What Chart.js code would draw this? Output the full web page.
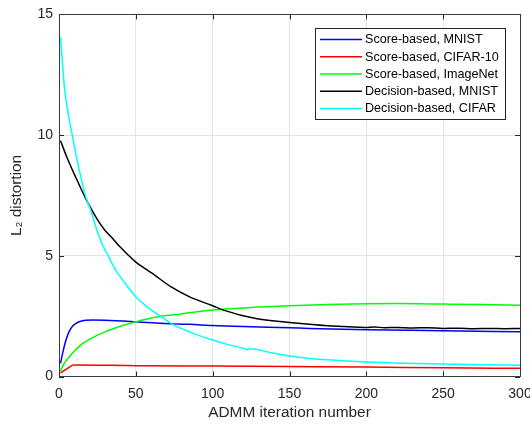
<!DOCTYPE html>
<html>
<head>
<meta charset="utf-8">
<script src="https://cdn.jsdelivr.net/npm/chart.js@4"></script>
<style>
html,body{margin:0;padding:0;background:#fff;}
#wrap{width:530px;height:424px;position:relative;}
</style>
</head>
<body>
<div id="wrap"><canvas id="c" width="530" height="424"></canvas></div>
<script>
// ---- data ----
const seriesLabels = ['Score-based, MNIST','Score-based, CIFAR-10','Score-based, ImageNet','Decision-based, MNIST','Decision-based, CIFAR'];
const seriesColors = ['#0000ff','#ff0000','#00ff00','#000000','#00ffff'];

const xTicks = [0,50,100,150,200,250,300];
const yTicks = [0,5,10,15];

const scoreMnistX = [1,2.5,4.5,6.5,8.9,11,13.2,17.5,22,30,50,75,85,100,125,150,163,200,250,300];
const scoreMnistY = [0.55,1.0,1.5,1.85,2.09,2.2,2.27,2.33,2.34,2.33,2.27,2.18,2.16,2.11,2.06,2.02,1.99,1.94,1.90,1.85];

const scoreCifarX = [1,3,5.6,8.9,10,50,100,150,200,250,300];
const scoreCifarY = [0.15,0.23,0.34,0.47,0.48,0.45,0.43,0.41,0.39,0.36,0.34];

const scoreImagenetX = [1,3,6.7,10,15,20,30,40,50,60,66,75,85,100,125,150,175,200,220,250,275,300];
const scoreImagenetY = [0.22,0.5,0.82,1.05,1.35,1.55,1.85,2.08,2.27,2.42,2.5,2.56,2.64,2.75,2.86,2.93,2.98,3.01,3.02,3.0,2.98,2.95];

const decMnistX = [1,5,8.9,12,17.5,25,30,34,40,50,56,60,73,85,100,107,128,150,163,175,185,195,200,205,212,220,230,240,250,260,270,280,290,300];
const decMnistY = [9.77,9.1,8.53,8.1,7.36,6.5,6.05,5.78,5.35,4.74,4.47,4.3,3.71,3.3,2.93,2.75,2.4,2.24,2.16,2.1,2.07,2.04,2.03,2.05,2.02,2.03,2.01,2.02,1.99,2.0,1.98,1.99,1.98,1.99];

const decCifarX = [1,3.5,6,8.6,12,17.5,20,25,28,32,37,42,50,58,66,74,85,100,110,120,123,124,135,150,163,175,200,225,250,275,300];
const decCifarY = [14.05,12.0,10.9,10.0,8.9,7.43,7.0,6.0,5.5,5.0,4.4,3.95,3.3,2.85,2.5,2.16,1.85,1.51,1.32,1.17,1.11,1.16,1.03,0.85,0.75,0.69,0.60,0.55,0.52,0.49,0.47];

const seriesX = [scoreMnistX, scoreCifarX, scoreImagenetX, decMnistX, decCifarX];
const seriesY = [scoreMnistY, scoreCifarY, scoreImagenetY, decMnistY, decCifarY];

// ---- build chart ----
const FONT = "'Liberation Sans', Arial, Helvetica, sans-serif";
const AXC = '#262626';

const datasets = seriesLabels.map((lab, i) => ({
  label: lab,
  data: seriesX[i].map((x, j) => ({x: x, y: seriesY[i][j]})),
  borderColor: seriesColors[i],
  backgroundColor: seriesColors[i],
  borderWidth: 1.5,
  pointRadius: 0,
  fill: false,
  cubicInterpolationMode: 'monotone',
  order: seriesLabels.length - i
}));

const framePlugin = {
  id: 'frame',
  afterDraw(chart) {
    const ctx = chart.ctx;
    const a = chart.chartArea;
    const xs = chart.scales.x, ys = chart.scales.y;
    ctx.save();
    ctx.strokeStyle = AXC;
    ctx.lineWidth = 1;
    // inward ticks
    ctx.beginPath();
    xTicks.forEach(v => {
      const px = Math.round(xs.getPixelForValue(v)) + 0.5;
      ctx.moveTo(px, a.bottom); ctx.lineTo(px, a.bottom - 5);
      ctx.moveTo(px, a.top); ctx.lineTo(px, a.top + 5);
    });
    yTicks.forEach(v => {
      const py = Math.round(ys.getPixelForValue(v)) + 0.5;
      ctx.moveTo(a.left, py); ctx.lineTo(a.left + 5, py);
      ctx.moveTo(a.right, py); ctx.lineTo(a.right - 5, py);
    });
    ctx.stroke();
    // box
    ctx.strokeStyle = '#3a3a3a';
    ctx.strokeRect(Math.round(a.left) + 0.5, Math.round(a.top) + 0.5, Math.round(a.right - a.left), Math.round(a.bottom - a.top));

    // legend
    const lx = 315, ly = 28, lw = 190, lh = 91;
    ctx.fillStyle = '#ffffff';
    ctx.fillRect(lx, ly, lw, lh);
    ctx.strokeStyle = AXC;
    ctx.lineWidth = 1;
    ctx.strokeRect(lx + 0.5, ly + 0.5, lw, lh);
    ctx.font = '12.6px ' + FONT;
    ctx.textBaseline = 'middle';
    ctx.textAlign = 'left';
    chart.data.datasets.forEach((ds, i) => {
      const cy = 39.5 + i * 17.25;
      ctx.strokeStyle = ds.borderColor;
      ctx.lineWidth = 1.5;
      ctx.beginPath();
      ctx.moveTo(320, cy); ctx.lineTo(362, cy);
      ctx.stroke();
      ctx.fillStyle = '#000000';
      ctx.fillText(ds.label, 365, cy + 0.5);
    });
    ctx.restore();
  }
};

new Chart(document.getElementById('c'), {
  type: 'line',
  data: { datasets: datasets },
  options: {
    responsive: false,
    animation: false,
    devicePixelRatio: 1,
    layout: { padding: { top: 13.5, right: 0, left: 0, bottom: 0 } },
    plugins: { legend: { display: false }, tooltip: { enabled: false } },
    scales: {
      x: {
        type: 'linear', min: 0, max: 300,
        afterBuildTicks(s) { s.ticks = xTicks.map(v => ({value: v})); },
        afterFit(s) { s.height = 47.5; s.paddingRight = 10; s.paddingLeft = 0; },
        ticks: { color: AXC, font: { family: FONT, size: 14 }, padding: 9, maxRotation: 0, autoSkip: false },
        grid: { color: '#e3e3e3', lineWidth: 1, drawTicks: false },
        border: { display: false },
        title: { display: true, text: 'ADMM iteration number', color: AXC, font: { family: FONT, size: 15.4 }, padding: { top: 0, bottom: 2 } }
      },
      y: {
        type: 'linear', min: 0, max: 15,
        afterBuildTicks(s) { s.ticks = yTicks.map(v => ({value: v})); },
        afterFit(s) { s.width = 59; },
        ticks: { color: AXC, font: { family: FONT, size: 14 }, padding: 6, autoSkip: false },
        grid: { color: '#e3e3e3', lineWidth: 1, drawTicks: false },
        border: { display: false },
        title: { display: true, text: 'L\u2082 distortion', color: AXC, font: { family: FONT, size: 15.4 }, padding: { top: 8, bottom: 0 } }
      }
    }
  },
  plugins: [framePlugin]
});
</script>
</body>
</html>
